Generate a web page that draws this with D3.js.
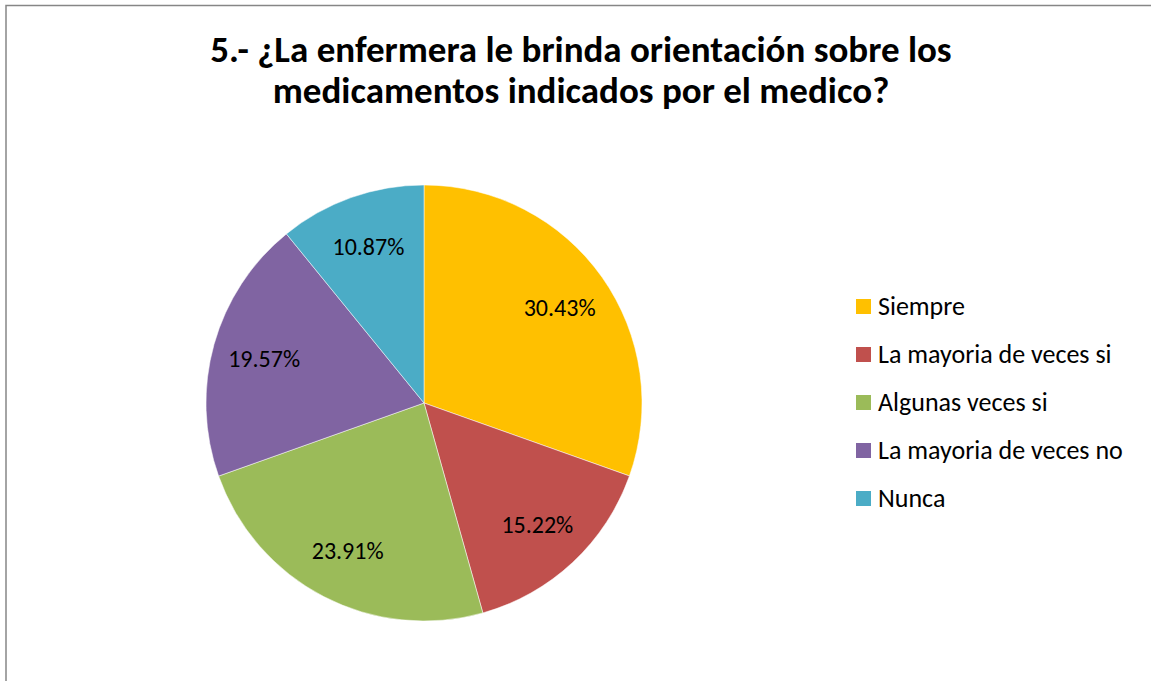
<!DOCTYPE html>
<html>
<head>
<meta charset="utf-8">
<script src="https://cdn.jsdelivr.net/npm/d3@7"></script>
<style>
  body { margin: 0; background: #fff; }
  svg { display: block; font-family: Carlito, Calibri, "Open Sans", sans-serif; }
</style>
</head>
<body>
<div class="container-chart"></div>
<script>
// ---- data ----
const categories = ["Siempre", "La mayoria de veces si", "Algunas veces si", "La mayoria de veces no", "Nunca"];
const values = [30.43, 15.22, 23.91, 19.57, 10.87];
const colors = ["#FFC000", "#C0504D", "#9BBB59", "#8064A2", "#4BACC6"];
const titleLines = ["5.- ¿La enfermera le brinda orientación sobre los", "medicamentos indicados por el medico?"];

const width = 1151, height = 681;
const cx = 424, cy = 403, radius = 218;

const svg = d3.select(".container-chart")
    .append("svg")
    .attr("width", width)
    .attr("height", height);

// chart area border (continues past the right / bottom edge)
svg.append("rect")
    .attr("x", 6).attr("y", 5.5)
    .attr("width", width + 10).attr("height", height + 10)
    .attr("fill", "none")
    .attr("stroke", "#868686")
    .attr("stroke-width", 1.5);

// title
svg.append("g").selectAll("text")
    .data(titleLines)
    .enter().append("text")
    .attr("x", 581)
    .attr("y", (d, i) => 62 + i * 41)
    .attr("text-anchor", "middle")
    .style("font-size", "37px")
    .style("font-weight", "bold")
    .style("fill", "#000")
    .text(d => d);

const color = d3.scaleOrdinal().domain(categories).range(colors);

const pie = d3.pie().sort(null).value(d => d.value);
const arcs = pie(categories.map((c, i) => ({ name: c, value: values[i] })));

const arc = d3.arc().innerRadius(0).outerRadius(radius);
const labelArc = d3.arc().innerRadius(166).outerRadius(166);

const g = svg.append("g").attr("transform", `translate(${cx},${cy})`);

g.selectAll("path")
    .data(arcs)
    .enter().append("path")
    .attr("d", arc)
    .attr("fill", d => color(d.data.name))
    .attr("stroke", "#fff")
    .attr("stroke-width", 0.5);

g.selectAll("text")
    .data(arcs)
    .enter().append("text")
    .attr("transform", d => `translate(${labelArc.centroid(d)})`)
    .attr("text-anchor", "middle")
    .attr("dy", "0.35em")
    .style("font-size", "24px")
    .style("fill", "#000")
    .text(d => d3.format(".2f")(d.data.value) + "%");

// legend
const legend = svg.append("g").attr("transform", "translate(856,306)");
const item = legend.selectAll("g")
    .data(categories)
    .enter().append("g")
    .attr("transform", (d, i) => `translate(0,${i * 48})`);

item.append("rect")
    .attr("x", 0).attr("y", -7)
    .attr("width", 15).attr("height", 15)
    .attr("fill", d => color(d));

item.append("text")
    .attr("x", 22)
    .attr("dy", "0.35em")
    .style("font-size", "26px")
    .style("fill", "#000")
    .text(d => d);
</script>
</body>
</html>
